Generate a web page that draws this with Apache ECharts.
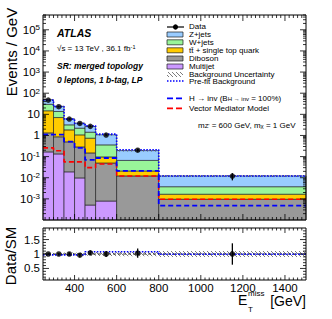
<!DOCTYPE html>
<html><head><meta charset="utf-8">
<script src="https://cdn.jsdelivr.net/npm/echarts@6/dist/echarts.min.js"></script>
<style>html,body{margin:0;padding:0;background:#fff}#c{width:332px;height:319px}</style>
</head><body><div id="c"></div>
<script>
// ---------------- data ----------------
const binEdges = [250, 300, 350, 400, 450, 500, 600, 800, 1500];
const multijet = [0.167, 0.134, 0.019, 0.0098, 0.00051, 0.00079, 0, 0];
const diboson  = [1.16, 0.73, 0.48, 0.278, 0.149, 0.049, 0.0122, 0.00096];
const ttbar    = [13.4, 6.19, 1.34, 0.78, 0.595, 0.047, 0.0088, 0.0007];
const wjets    = [15.1, 6.55, 1.34, 1.15, 0.685, 0.262, 0.045, 0.0021];
const zjets    = [18.9, 10.3, 2.94, 1.61, 1.21, 0.71, 0.126, 0.0084];
const dataVal  = [47, 23, 6.0, 3.7, 2.7, 1.05, 0.2, 0.012];
const dataErr  = [1.0, 0.68, 0.35, 0.27, 0.23, 0.1, 0.032, 0.0045];
const bkgUncRel = [0.04, 0.04, 0.05, 0.05, 0.06, 0.07, 0.08, 0.1];
const prefitBkg = [47, 23.2, 5.9, 3.7, 2.85, 1.16, 0.21, 0.0121];
const hinvSig  = [1.1, 1.1, 0.51, 0.26, 0.07, 0.086, 0.021, 0.00048];
const vecSig   = [0.26, 0.19, 0.056, 0.056, 0.03, 0.045, 0.012, 0.00096];
const ratioVal = [1.0, 1.0, 1.0, 0.96, 1.04, 1.0, 1.03, 1.0];
const ratioErr = [0.02, 0.03, 0.06, 0.07, 0.08, 0.1, 0.16, 0.37];
const prefitRatio = [0.97, 0.97, 0.97, 0.97, 1.08, 1.08, 1.08, 0.99];
const xTickLabels = [400, 600, 800, 1000, 1200, 1400];
const ratioTickLabels = [0.5, 1, 1.5];

// ---------------- setup ----------------
const FONT = 'Liberation Sans';
const yMin = 1e-4, yMax = Math.pow(10, 5.7);
const rMin = 0.1, rMax = 1.9;
const nb = binEdges.length - 1;
const layers = [
  {vals: multijet, color: '#cc99ff'},
  {vals: diboson,  color: '#999999'},
  {vals: ttbar,    color: '#ffcc00'},
  {vals: wjets,    color: '#99f599'},
  {vals: zjets,    color: '#99ccff'}
];
let run = new Array(nb).fill(0);
const cum = layers.map(l => { const lo = run.slice(); run = run.map((r, i) => r + l.vals[i]); return {lo, hi: run.slice()}; });
const total = run;

function hatchURL() {
  const c = document.createElement('canvas'); c.width = 4; c.height = 4;
  const g = c.getContext('2d'); g.strokeStyle = '#444'; g.lineWidth = 0.7;
  g.beginPath(); g.moveTo(-1, -1); g.lineTo(5, 5); g.moveTo(-1, 3); g.lineTo(1, 5); g.moveTo(3, -1); g.lineTo(5, 1); g.stroke();
  return c.toDataURL();
}
const HATCH = {image: hatchURL(), repeat: 'repeat', imageWidth: 4, imageHeight: 4};

function rectItem(fill, stroke, lw) {
  return function (params, api) {
    const lo = api.value(2), hi = api.value(3);
    if (!(hi > lo)) return null;
    const p0 = api.coord([api.value(0), hi]);
    const p1 = api.coord([api.value(1), lo]);
    return {type: 'rect', shape: {x: p0[0], y: p0[1], width: p1[0] - p0[0], height: p1[1] - p0[1]},
      style: {fill: fill, stroke: stroke, lineWidth: lw}};
  };
}
function binRows(lo, hi) { return binEdges.slice(0, -1).map((x0, i) => [x0, binEdges[i + 1], lo[i], hi[i]]); }
function stepRows(v) { return binEdges.map((x, i) => [x, v[Math.min(i, nb - 1)]]); }
function centers() { return binEdges.slice(0, -1).map((x0, i) => (x0 + binEdges[i + 1]) / 2); }

const series = [];
layers.forEach((l, k) => {
  series.push({type: 'custom', xAxisIndex: 0, yAxisIndex: 0, z: 2, silent: true,
    data: binRows(cum[k].lo.map(v => Math.max(v, yMin)), cum[k].hi),
    renderItem: rectItem(l.color, '#1a1a1a', 0.6)});
});
series.push({type: 'custom', xAxisIndex: 0, yAxisIndex: 0, z: 3, silent: true,
  data: binRows(total.map((t, i) => t * (1 - bkgUncRel[i])), total.map((t, i) => t * (1 + bkgUncRel[i]))),
  renderItem: rectItem(HATCH, null, 0)});
function stepLine(vals, color, width, dash, xi, yi, z) {
  return {type: 'line', xAxisIndex: xi, yAxisIndex: yi, z: z, step: 'end', symbol: 'none', silent: true,
    data: stepRows(vals), lineStyle: {color: color, width: width, type: dash}};
}
series.push(stepLine(prefitBkg, '#0000ff', 1.6, [1.5, 1.5], 0, 0, 4));
series.push(stepLine(vecSig, '#ff0000', 1.6, [5, 3], 0, 0, 4));
series.push(stepLine(hinvSig, '#0000ff', 1.8, [5, 3], 0, 0, 4));
function errItem(params, api) {
  const x = api.value(0), y = api.value(1), e = api.value(2);
  const a = api.coord([x, y + e]); const b = api.coord([x, Math.max(y - e, 1e-9)]);
  return {type: 'line', shape: {x1: a[0], y1: a[1], x2: b[0], y2: b[1]}, style: {stroke: '#000', lineWidth: 1.3}};
}
const cx = centers();
series.push({type: 'custom', xAxisIndex: 0, yAxisIndex: 0, z: 5, silent: true,
  data: cx.map((x, i) => [x, dataVal[i], dataErr[i]]), renderItem: errItem});
series.push({type: 'scatter', xAxisIndex: 0, yAxisIndex: 0, z: 6, silent: true, symbol: 'circle', symbolSize: 5.5,
  itemStyle: {color: '#000'}, data: cx.map((x, i) => [x, dataVal[i]])});

series.push({type: 'custom', xAxisIndex: 1, yAxisIndex: 1, z: 3, silent: true,
  data: binRows(bkgUncRel.map(u => 1 - u), bkgUncRel.map(u => 1 + u)),
  renderItem: rectItem(HATCH, null, 0)});
series.push({type: 'line', xAxisIndex: 1, yAxisIndex: 1, z: 3, symbol: 'none', silent: true,
  data: [[binEdges[0], 1], [binEdges[nb], 1]], lineStyle: {color: '#000', width: 0.8, type: [3, 2]}});
series.push(stepLine(prefitRatio, '#0000ff', 1.6, [1.5, 1.5], 1, 1, 4));
series.push({type: 'custom', xAxisIndex: 1, yAxisIndex: 1, z: 5, silent: true,
  data: cx.map((x, i) => [x, ratioVal[i], ratioErr[i]]), renderItem: errItem});
series.push({type: 'scatter', xAxisIndex: 1, yAxisIndex: 1, z: 6, silent: true, symbol: 'circle', symbolSize: 5.5,
  itemStyle: {color: '#000'}, data: cx.map((x, i) => [x, ratioVal[i]])});

function frameItem(xTicks, yTicks) {
  return function (params, api) {
    const cs = params.coordSys; const ch = [];
    const X0 = cs.x, X1 = cs.x + cs.width, Y0 = cs.y, Y1 = cs.y + cs.height;
    xTicks.forEach(t => {
      const px = api.coord([t[0], t[2]])[0];
      ch.push({type: 'line', shape: {x1: px, y1: Y1, x2: px, y2: Y1 - t[1]}, style: {stroke: '#000', lineWidth: 0.8}});
      ch.push({type: 'line', shape: {x1: px, y1: Y0, x2: px, y2: Y0 + t[1]}, style: {stroke: '#000', lineWidth: 0.8}});
    });
    yTicks.forEach(t => {
      const py = api.coord([t[2], t[0]])[1];
      ch.push({type: 'line', shape: {x1: X0, y1: py, x2: X0 + t[1], y2: py}, style: {stroke: '#000', lineWidth: 0.8}});
      ch.push({type: 'line', shape: {x1: X1, y1: py, x2: X1 - t[1], y2: py}, style: {stroke: '#000', lineWidth: 0.8}});
    });
    ch.push({type: 'rect', shape: {x: X0, y: Y0, width: cs.width, height: cs.height}, style: {fill: 'none', stroke: '#000', lineWidth: 1}});
    return {type: 'group', children: ch};
  };
}
const mainXT = [], ratXT = [];
for (let v = 260; v < 1500; v += 20) { const maj = v % 200 === 0; mainXT.push([v, maj ? 6 : 3, 1]); ratXT.push([v, maj ? 5 : 2.5, 1]); }
const mainYT = [];
for (let e = -4; e <= 5; e++) for (let k = 1; k <= 9; k++) { const v = k * Math.pow(10, e); if (v > yMin * 1.0001 && v < yMax) mainYT.push([v, k === 1 ? 6 : 3, 500]); }
const ratYT = [];
for (let i = 2; i <= 18; i++) { const v = i / 10; ratYT.push([v, i % 5 === 0 ? 6 : 3, 500]); }
series.push({type: 'custom', xAxisIndex: 0, yAxisIndex: 0, z: 10, silent: true, data: [[500, 1]], renderItem: frameItem(mainXT, mainYT)});
series.push({type: 'custom', xAxisIndex: 1, yAxisIndex: 1, z: 10, silent: true, data: [[500, 1]], renderItem: frameItem(ratXT, ratYT)});

// ---------------- text ----------------
const txt = (x, y, text, o) => Object.assign({type: 'text', x: x, y: y, silent: true, z: 20,
  style: Object.assign({text: text, fontFamily: FONT, fontSize: 8, lineHeight: 7, fill: '#000', align: 'left', verticalAlign: 'middle'}, o || {})});
const subRich = {
  n: {fontSize: 8, fontFamily: FONT, lineHeight: 8, verticalAlign: 'middle'},
  sub: {fontSize: 6, fontFamily: FONT, lineHeight: 4, verticalAlign: 'bottom'},
  sup: {fontSize: 6, fontFamily: FONT, lineHeight: 4, verticalAlign: 'top'}
};
const legX = 189, symX0 = 167, symX1 = 184;
const boxes = [
  {y: 34.5, color: '#99ccff', label: 'Z+jets'},
  {y: 42.3, color: '#99f599', label: 'W+jets'},
  {y: 50.3, color: '#ffcc00', label: 't\u0074\u0304 + single top quark'},
  {y: 58.5, color: '#999999', label: 'Diboson'},
  {y: 66.5, color: '#cc99ff', label: 'Multijet'}
];
const graphics = [];
graphics.push({type: 'line', shape: {x1: symX0, y1: 27, x2: symX1, y2: 27}, style: {stroke: '#000', lineWidth: 1.2}, z: 20});
graphics.push({type: 'circle', shape: {cx: (symX0 + symX1) / 2, cy: 27, r: 2.6}, style: {fill: '#000'}, z: 21});
graphics.push(txt(legX, 26.8, 'Data'));
boxes.forEach(b => {
  graphics.push({type: 'rect', shape: {x: symX0, y: b.y - 2.5, width: symX1 - symX0 - 1, height: 5}, style: {fill: b.color, stroke: '#1a1a1a', lineWidth: 0.7}, z: 20});
  graphics.push(txt(legX, b.y, b.label));
});
graphics.push({type: 'rect', shape: {x: symX0, y: 72, width: symX1 - symX0 - 1, height: 5}, style: {fill: HATCH}, z: 20});
graphics.push(txt(legX, 74.2, 'Background Uncertainty'));
graphics.push({type: 'line', shape: {x1: symX0, y1: 81, x2: symX1, y2: 81}, style: {stroke: '#0000ff', lineWidth: 1.6, lineDash: [1.5, 1.5]}, z: 20});
graphics.push(txt(legX, 81.6, 'Pre-fit Background'));
graphics.push({type: 'line', shape: {x1: symX0, y1: 98.3, x2: symX1, y2: 98.3}, style: {stroke: '#0000ff', lineWidth: 1.8, lineDash: [6, 3]}, z: 20});
graphics.push(txt(legX, 98.3, '{n|H \u2192 inv (B}{sub|H \u2192 inv}{n| = 100%)}', {rich: subRich}));
graphics.push({type: 'line', shape: {x1: symX0, y1: 108.3, x2: symX1, y2: 108.3}, style: {stroke: '#ff0000', lineWidth: 1.8, lineDash: [6, 3]}, z: 20});
graphics.push(txt(legX, 108.3, 'Vector Mediator Model'));
graphics.push(txt(198, 125, '{n|m}{sub|Z\'}{n| = 600 GeV, m}{sub|\u03c7}{n| = 1 GeV}', {rich: subRich}));
graphics.push(txt(57, 33, 'ATLAS', {fontSize: 10.5, lineHeight: 10, fontWeight: 'bold', fontStyle: 'italic'}));
graphics.push(txt(57, 48, '{n|\u221as = 13 TeV , 36.1 fb}{sup|-1}', {rich: {
  n: {fontSize: 8, fontFamily: FONT, lineHeight: 9, verticalAlign: 'middle'},
  sup: {fontSize: 5.5, fontFamily: FONT, lineHeight: 4, verticalAlign: 'top'}}}));
graphics.push(txt(57, 66, 'SR: merged topology', {fontSize: 8.5, lineHeight: 9, fontWeight: 'bold', fontStyle: 'italic'}));
graphics.push(txt(57, 80, '0 leptons, 1 b-tag, LP', {fontSize: 8.5, lineHeight: 9, fontWeight: 'bold', fontStyle: 'italic'}));
graphics.push(txt(11, 52, 'Events / GeV', {fontSize: 15, lineHeight: 15, align: 'center'}));
graphics[graphics.length - 1].rotation = Math.PI / 2;
graphics.push(txt(10, 256, 'Data/SM', {fontSize: 15, lineHeight: 15, align: 'center'}));
graphics[graphics.length - 1].rotation = Math.PI / 2;
graphics.push(txt(238, 299.5, 'E', {fontSize: 14, lineHeight: 10}));
graphics.push(txt(248, 293.5, 'miss', {fontSize: 8, lineHeight: 6}));
graphics.push(txt(248, 309, 'T', {fontSize: 8, lineHeight: 6}));
graphics.push(txt(306, 300.5, '[GeV]', {fontSize: 14, lineHeight: 10, align: 'right'}));

const supLabel = {
  b: {fontSize: 11.5, fontFamily: FONT, color: '#000', lineHeight: 12, verticalAlign: 'bottom'},
  s: {fontSize: 8, fontFamily: FONT, color: '#000', lineHeight: 7, verticalAlign: 'top'}
};

const chart = echarts.init(document.getElementById('c'), null, {renderer: 'svg'});
chart.setOption({
  animation: false,
  backgroundColor: '#fff',
  grid: [
    {left: 43, top: 15, width: 263, height: 205},
    {left: 43, top: 228, width: 263, height: 52}
  ],
  xAxis: [
    {gridIndex: 0, type: 'value', min: 250, max: 1500, splitNumber: 6,
      axisLine: {show: false}, axisTick: {show: false}, splitLine: {show: false}, axisLabel: {show: false}},
    {gridIndex: 1, type: 'value', min: 250, max: 1500, splitNumber: 6,
      axisLine: {show: false}, axisTick: {show: false}, splitLine: {show: false},
      axisLabel: {show: true, margin: 3, fontSize: 11.5, lineHeight: 9, fontFamily: FONT, color: '#000', showMinLabel: false, showMaxLabel: false,
        formatter: v => xTickLabels.indexOf(v) >= 0 ? String(v) : ''}}
  ],
  yAxis: [
    {gridIndex: 0, type: 'log', logBase: 10, min: yMin, max: yMax, splitNumber: 10,
      axisLine: {show: false}, axisTick: {show: false}, splitLine: {show: false},
      axisLabel: {show: true, margin: 3, showMinLabel: false, showMaxLabel: false, rich: supLabel,
        formatter: v => {
          const l = Math.log10(v), e = Math.round(l);
          if (Math.abs(l - e) > 1e-6 || e < -3 || e > 5) return '';
          if (e === 0) return '{b|1}';
          if (e === 1) return '{b|10}';
          return '{b|10}{s|' + e + '}';
        }}},
    {gridIndex: 1, type: 'value', min: rMin, max: rMax, splitNumber: 4,
      axisLine: {show: false}, axisTick: {show: false}, splitLine: {show: false},
      axisLabel: {show: true, margin: 3, fontSize: 11.5, lineHeight: 10, fontFamily: FONT, color: '#000', showMinLabel: false, showMaxLabel: false,
        formatter: v => { const m = ratioTickLabels.find(t => Math.abs(t - v) < 1e-6); return m === undefined ? '' : String(m); }}}
  ],
  series: series,
  graphic: graphics
});
</script></body></html>
